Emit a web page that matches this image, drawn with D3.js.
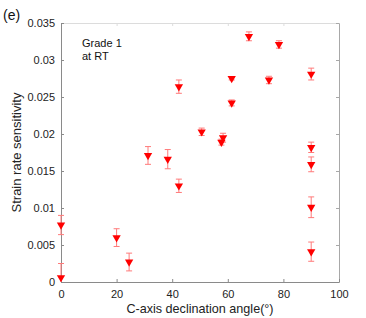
<!DOCTYPE html>
<html>
<head>
<meta charset="utf-8">
<script src="https://cdn.jsdelivr.net/npm/d3@7"></script>
<style>
  body { margin: 0; background: #fff; }
  text { font-family: "Liberation Sans", Arial, sans-serif; }
</style>
</head>
<body>
<div id="chart"></div>
<script>
// Readings: declination angle (deg), strain rate sensitivity, error half-width
const angles = [0, 0, 20, 24.5, 31.3, 38.4, 42.4, 42.4, 50.6, 57.7, 58.3, 61.4, 61.4, 67.6, 74.8, 78.4, 90, 90, 90, 90, 90];
const srs    = [0.0077, 0.0006, 0.0060, 0.0027, 0.0171, 0.0166, 0.0130, 0.0264, 0.0203, 0.0189, 0.0195, 0.0242, 0.0275, 0.0332, 0.0273, 0.0321, 0.0281, 0.0182, 0.0159, 0.0101, 0.0041];
const errs   = [0.0013, 0.0019, 0.0012, 0.0012, 0.0012, 0.0013, 0.0009, 0.0009, 0.0005, 0.0004, 0.0006, 0.0004, 0.0002, 0.0006, 0.0005, 0.0005, 0.0008, 0.0007, 0.0010, 0.0014, 0.0013];

const xTicks = [0, 20, 40, 60, 80, 100];
const yTicks = [0, 0.005, 0.01, 0.015, 0.02, 0.025, 0.03, 0.035];
const yTickLabels = ["0", "0.005", "0.01", "0.015", "0.02", "0.025", "0.03", "0.035"];

const width = 366, height = 318;
const margin = {top: 23, right: 27, bottom: 36, left: 61};

const x = d3.scaleLinear().domain([0, 100]).range([margin.left, width - margin.right]);
const y = d3.scaleLinear().domain([0, 0.035]).range([height - margin.bottom, margin.top]);

const svg = d3.select("#chart").append("svg")
    .attr("width", width)
    .attr("height", height);

// box (MATLAB style, ticks pointing in)
const styleAxis = (g, col) => {
    g.select(".domain").attr("stroke", col);
    g.selectAll(".tick line").attr("stroke", col);
    g.selectAll(".tick text").attr("fill", "#222").style("font-size", "11px");
};

svg.append("g")
    .attr("transform", `translate(0,${margin.top})`)
    .call(d3.axisTop(x).tickValues(xTicks).tickSizeInner(-3).tickSizeOuter(0).tickFormat(""))
    .call(g => styleAxis(g, "#dcdcdc"));

svg.append("g")
    .attr("transform", `translate(${width - margin.right},0)`)
    .call(d3.axisRight(y).tickValues(yTicks).tickSizeInner(-3).tickSizeOuter(0).tickFormat(""))
    .call(g => styleAxis(g, "#a8a8a8"));

svg.append("g")
    .attr("transform", `translate(0,${height - margin.bottom})`)
    .call(d3.axisBottom(x).tickValues(xTicks).tickSizeInner(-3).tickSizeOuter(0).tickPadding(8))
    .call(g => styleAxis(g, "#8a8a8a"));

svg.append("g")
    .attr("transform", `translate(${margin.left},0)`)
    .call(d3.axisLeft(y).tickValues(yTicks).tickSizeInner(-3).tickSizeOuter(0).tickPadding(6)
        .tickFormat((d, i) => yTickLabels[i]))
    .call(g => styleAxis(g, "#8a8a8a"));

// data
const data = angles.map((a, i) => ({a, v: srs[i], e: errs[i]}));
const errCol = "#ff7a7a";

const eb = svg.append("g").attr("stroke", errCol).attr("stroke-width", 1).attr("fill", "none");
eb.selectAll("line.v").data(data).join("line")
    .attr("x1", d => x(d.a)).attr("x2", d => x(d.a))
    .attr("y1", d => y(Math.max(0, d.v - d.e))).attr("y2", d => y(d.v + d.e));
eb.selectAll("line.t").data(data).join("line")
    .attr("x1", d => x(d.a) - 3).attr("x2", d => x(d.a) + 3)
    .attr("y1", d => y(d.v + d.e)).attr("y2", d => y(d.v + d.e));
eb.selectAll("line.b").data(data.filter(d => d.v - d.e > 0)).join("line")
    .attr("x1", d => x(d.a) - 3).attr("x2", d => x(d.a) + 3)
    .attr("y1", d => y(d.v - d.e)).attr("y2", d => y(d.v - d.e));

svg.append("g").selectAll("path").data(data).join("path")
    .attr("d", d3.symbol(d3.symbolTriangle, 30))
    .attr("transform", d => `translate(${x(d.a)},${y(d.v)}) rotate(180)`)
    .attr("fill", "#ff0000");

// labels
svg.append("text")
    .attr("x", (margin.left + width - margin.right) / 2)
    .attr("y", 313)
    .attr("text-anchor", "middle")
    .attr("fill", "#222")
    .style("font-size", "12.6px")
    .text("C-axis declination angle(°)");

svg.append("text")
    .attr("transform", `translate(21,${(margin.top + height - margin.bottom) / 2}) rotate(-90)`)
    .attr("text-anchor", "middle")
    .attr("fill", "#222")
    .style("font-size", "13px")
    .text("Strain rate sensitivity");

svg.append("text").attr("x", 3).attr("y", 20)
    .style("font-size", "14px").attr("fill", "#111").text("(e)");

svg.append("text").attr("x", 82).attr("y", 47)
    .style("font-size", "11px").attr("fill", "#111").text("Grade 1");
svg.append("text").attr("x", 82).attr("y", 60)
    .style("font-size", "11px").attr("fill", "#111").text("at RT");
</script>
</body>
</html>
